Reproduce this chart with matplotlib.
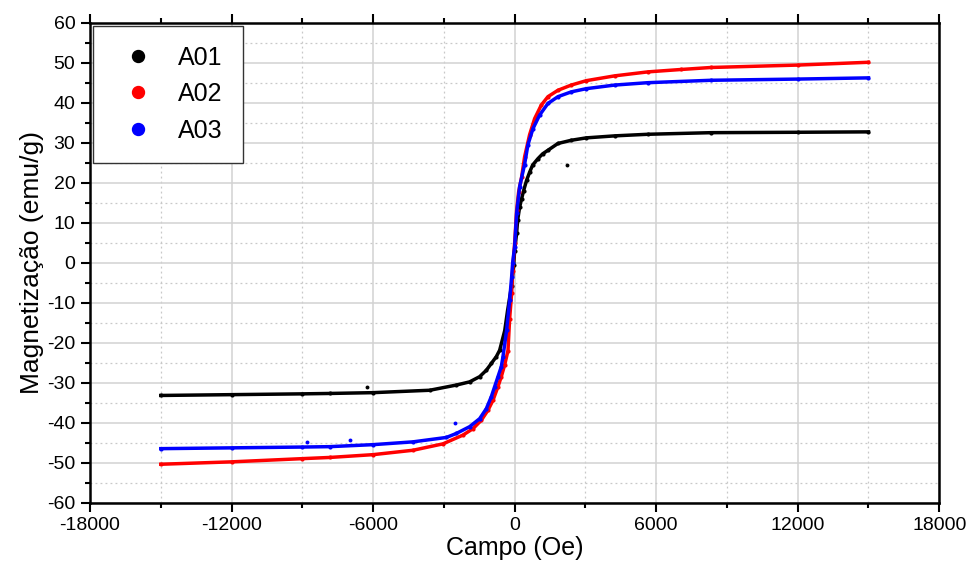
import matplotlib
matplotlib.use("Agg")
import matplotlib.pyplot as plt
from matplotlib.lines import Line2D
from matplotlib.ticker import MultipleLocator

plt.rcParams['font.family'] = ['Liberation Sans', 'DejaVu Sans']
plt.rcParams['axes.unicode_minus'] = False

# ---------------- data ----------------
labels = ["A01", "A02", "A03"]
colors = ["#000000", "#ff0000", "#0000ff"]

h_a01 = [-15000, -12000, -9000, -7835, -6000, -3600, -2470, -1906, -1482, -1200, -988,
         -777, -635, -420, -300, -130, -40, 0, 85, 127, 212, 296, 381, 508, 635, 762,
         988, 1186, 1412, 1836, 2400, 3036, 4236, 5648, 8330, 12000, 15000]
m_a01 = [-33.2, -33.0, -32.8, -32.7, -32.5, -31.9, -30.6, -29.8, -28.5, -26.9, -25.2,
         -23.5, -21.9, -17.0, -12.0, -5.8, -0.5, 3.0, 7.4, 10.6, 13.9, 16.0, 18.0, 20.6, 22.6, 24.4,
         26.0, 27.2, 28.1, 29.8, 30.6, 31.2, 31.7, 32.1, 32.5, 32.6, 32.7]

h_a02 = [-15000, -12000, -9000, -7835, -6000, -4306, -3036, -2188, -1765, -1412, -1130,
         -918, -706, -565, -424, -282, -212, -127, -85, 0, 85, 170, 296, 424, 635, 847,
         1130, 1412, 1836, 2400, 3036, 4236, 5648, 7060, 8330, 12000, 15000]
m_a02 = [-50.4, -49.8, -49.0, -48.7, -48.0, -46.9, -45.3, -43.1, -41.5, -39.4, -36.9,
         -34.4, -31.0, -28.5, -25.6, -22.0, -14.0, -7.7, -2.0, 4.8, 13.1, 17.7, 21.4, 26.5, 32.0, 36.0,
         39.4, 41.5, 43.1, 44.4, 45.5, 46.7, 47.7, 48.3, 48.8, 49.4, 50.1]

h_a03 = [-15000, -12000, -9000, -7835, -6000, -4306, -2894, -2470, -1906, -1482, -1200,
         -988, -847, -706, -565, -494, -340, -212, -127, -85, 0, 85, 212, 420, 565, 777,
         1059, 1412, 1836, 2400, 3036, 4236, 5648, 8330, 12000, 15000]
m_a03 = [-46.5, -46.3, -46.1, -46.0, -45.5, -44.8, -43.7, -42.7, -41.0, -39.0, -36.5,
         -33.5, -31.0, -28.5, -26.0, -23.5, -16.9, -9.4, -3.6, -0.1, 4.0, 12.3, 19.0, 24.5, 29.5, 33.5,
         36.9, 39.8, 41.5, 42.7, 43.5, 44.4, 45.0, 45.6, 45.9, 46.2]

# isolated stray points
out_h = [[2240, -6270], [], [-2540, -8810, -6990]]
out_m = [[24.4, -31.1], [], [-40.1, -44.9, -44.4]]

series_h = [h_a01, h_a02, h_a03]
series_m = [m_a01, m_a02, m_a03]

x_ticks = [-18000, -12000, -6000, 0, 6000, 12000, 18000]
y_ticks = list(range(-60, 61, 10))

# ---------------- figure ----------------
fig = plt.figure(figsize=(9.71, 5.67), dpi=100)
ax = fig.add_axes([0.0927, 0.1135, 0.8746, 0.8465])

for h, m, oh, om, c in zip(series_h, series_m, out_h, out_m, colors):
    ax.plot(h, m, '-', color=c, lw=2.5, marker='o', ms=3.0, mew=0, zorder=3)
    if oh:
        ax.plot(oh, om, 'o', color=c, ms=2.8, mew=0, zorder=3)

ax.set_xlim(-18000, 18000)
ax.set_ylim(-60, 60)
ax.set_xticks(x_ticks)
ax.set_yticks(y_ticks)
ax.xaxis.set_minor_locator(MultipleLocator(3000))
ax.yaxis.set_minor_locator(MultipleLocator(5))

ax.grid(which='major', color='#d2d2d2', lw=1.1, ls='-', zorder=0)
ax.grid(which='minor', color='#c8c8c8', lw=0.9, ls=(0, (1.5, 2.5)), zorder=0)
ax.set_axisbelow(True)

for s in ax.spines.values():
    s.set_linewidth(1.8)
ax.tick_params(which='both', direction='out', top=True, right=False,
               labeltop=False, width=1.5, labelsize=14, colors='black')
ax.tick_params(which='major', length=6.5, pad=4)
ax.tick_params(which='minor', length=3.5)

ax.set_xlabel("Campo (Oe)", fontsize=18, labelpad=1)
ax.set_ylabel("Magnetização (emu/g)", fontsize=19, labelpad=2)

handles = [Line2D([], [], ls='none', marker='o', color=c, ms=8.6) for c in colors]
leg = ax.legend(handles, labels, loc='upper left', fontsize=18, frameon=True,
                fancybox=False, borderpad=0.8, labelspacing=0.5, handlelength=2.0,
                handletextpad=0.6, borderaxespad=0.12)
leg.get_frame().set_edgecolor('#333333')
leg.get_frame().set_linewidth(1.0)
leg.get_frame().set_alpha(1)

fig.savefig("out.png", dpi=100)
